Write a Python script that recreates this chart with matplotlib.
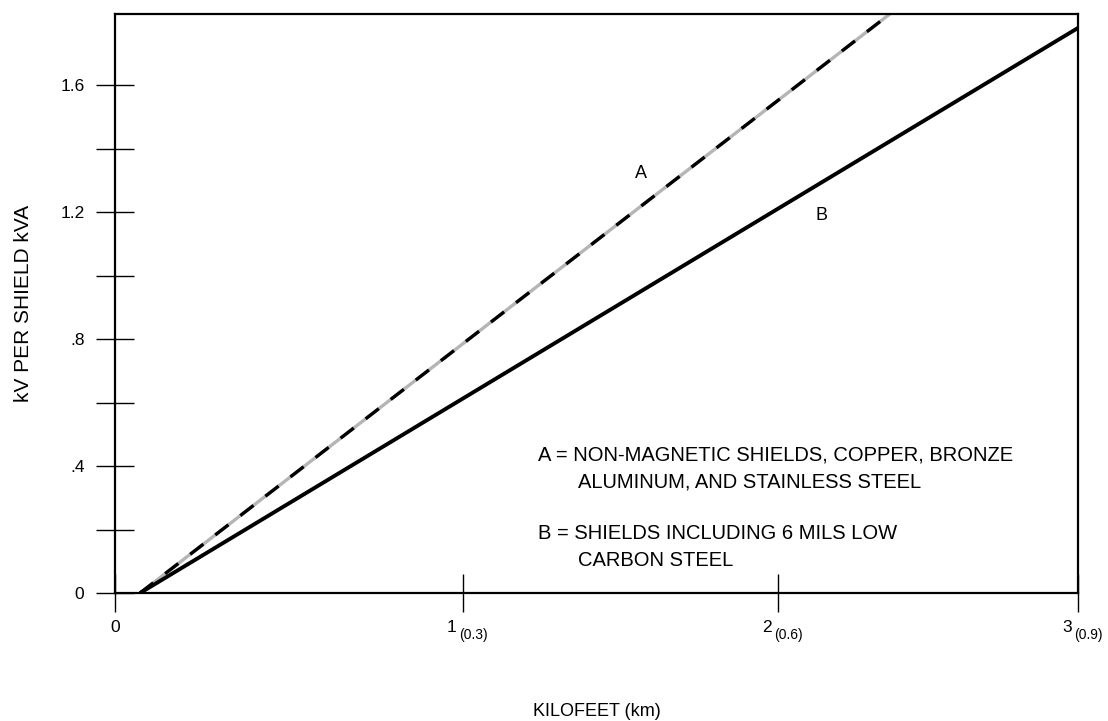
import numpy as np
import matplotlib
matplotlib.use('Agg')
import matplotlib.pyplot as plt

plt.rcParams['font.family'] = ['Liberation Sans', 'DejaVu Sans']

# Data
kilofeet_ticks = [0, 1, 2, 3]
km_labels = ['', '(0.3)', '(0.6)', '(0.9)']
kv_ticks = [0, 0.2, 0.4, 0.6, 0.8, 1.0, 1.2, 1.4, 1.6]
kv_labels = ['0', '', '.4', '', '.8', '', '1.2', '', '1.6']

line_a_x = [0.072, 2.373]
line_a_y = [0.0, 1.824]
line_b_x = [0.072, 3.0]
line_b_y = [0.0, 1.78]

# the printed axis is not evenly spaced: 0-1 is wider than 1-2 and 2-3
axis_nodes = [0, 1, 2, 3]
axis_pos = [0, 348, 663, 963]


def fwd(x):
    return np.interp(x, axis_nodes, axis_pos)


def inv(x):
    return np.interp(x, axis_pos, axis_nodes)


fig = plt.figure(figsize=(11.08, 7.21), dpi=100)
ax = fig.add_axes([0.1038, 0.1775, 0.8691, 0.8031])
ax.set_xscale('function', functions=(fwd, inv))
ax.set_xlim(0, 3)
ax.set_ylim(0, 1.824)

# curve A: grey line with black dashes over it
ax.plot(line_a_x, line_a_y, color='#b5b5b5', lw=2.4, solid_capstyle='butt')
ax.plot(line_a_x, line_a_y, color='black', lw=2.4, dashes=(5, 4.5))
# curve B
ax.plot(line_b_x, line_b_y, color='black', lw=2.8, solid_capstyle='butt')

for s in ax.spines.values():
    s.set_linewidth(1.6)

ax.set_xticks(kilofeet_ticks)
ax.set_xticklabels([])
ax.set_yticks(kv_ticks)
ax.set_yticklabels(kv_labels)
ax.tick_params(axis='both', direction='inout', length=27, width=1.0,
               labelsize=12.5, pad=8.5)

# x tick labels: number with km value as a subscript
for k, m in zip(kilofeet_ticks, km_labels):
    if m:
        ax.annotate(str(k), xy=(k, 0), xycoords=('data', 'axes fraction'),
                    xytext=(-4.5, -28), textcoords='offset points',
                    ha='right', va='baseline', fontsize=12.5, annotation_clip=False)
        ax.annotate(m, xy=(k, 0), xycoords=('data', 'axes fraction'),
                    xytext=(-3, -33), textcoords='offset points',
                    ha='left', va='baseline', fontsize=10, annotation_clip=False)
    else:
        ax.annotate(str(k), xy=(k, 0), xycoords=('data', 'axes fraction'),
                    xytext=(0, -28), textcoords='offset points',
                    ha='center', va='baseline', fontsize=12.5, annotation_clip=False)

ax.set_xlabel('KILOFEET (km)', fontsize=13)
ax.xaxis.set_label_coords(0.5, -0.19)
ax.set_ylabel('kV PER SHIELD kVA', fontsize=15)
ax.yaxis.set_label_coords(-0.085, 0.5)

ax.text(0.546, 0.724, 'A', transform=ax.transAxes, fontsize=13, ha='center', va='center')
ax.text(0.734, 0.652, 'B', transform=ax.transAxes, fontsize=13, ha='center', va='center')

note_kw = dict(transform=ax.transAxes, fontsize=14.5, ha='left', va='center')
ax.text(0.439, 0.238, 'A = NON-MAGNETIC SHIELDS, COPPER, BRONZE', **note_kw)
ax.text(0.481, 0.192, 'ALUMINUM, AND STAINLESS STEEL', **note_kw)
ax.text(0.439, 0.102, 'B = SHIELDS INCLUDING 6 MILS LOW', **note_kw)
ax.text(0.481, 0.057, 'CARBON STEEL', **note_kw)

fig.savefig('out.png', dpi=100)
